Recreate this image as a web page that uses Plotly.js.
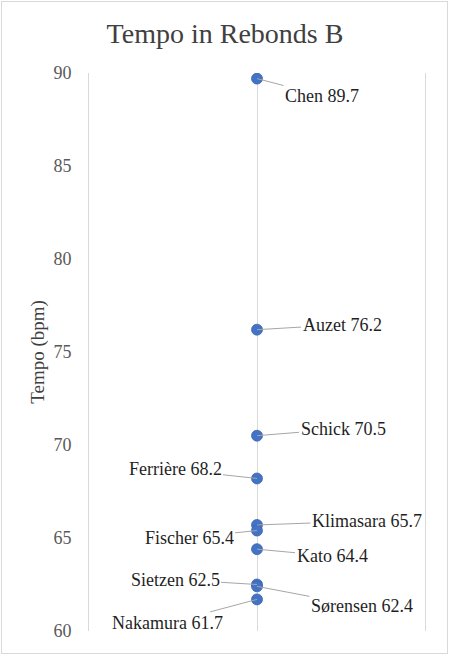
<!DOCTYPE html>
<html>
<head>
<meta charset="utf-8">
<script src="https://cdn.plot.ly/plotly-3.0.1.min.js"></script>
<style>
  html, body { margin: 0; padding: 0; background: #fff; }
  #chart { width: 450px; height: 656px; }
  #frame { position: fixed; left: 1px; top: 1px; width: 445px; height: 651px;
           border: 1.5px solid #d9d9d9; pointer-events: none; }
</style>
</head>
<body>
<div id="chart"></div>
<div id="frame"></div>
<script>
// Data
const performers = ["Chen", "Auzet", "Schick", "Ferrière", "Klimasara", "Fischer", "Kato", "Sietzen", "Sørensen", "Nakamura"];
const tempos = [89.7, 76.2, 70.5, 68.2, 65.7, 65.4, 64.4, 62.5, 62.4, 61.7];
const yTicks = [60, 65, 70, 75, 80, 85, 90];

// Label placement (pixel offsets of each label from its point)
const labelDX = [65, 85, 86, -82, 110, -68, 75, -82, 105, -90];
const labelDY = [17, -5, -7, -9, -4, 7, 7, -5, 20, 24];

const SERIF = "Liberation Serif, Times New Roman, serif";

const xs = performers.map(() => 1);

const trace = {
  type: "scatter",
  mode: "markers",
  x: xs,
  y: tempos,
  text: performers,
  marker: { size: 11, color: "#4472C4", line: { color: "#3A64B0", width: 0.75 } },
  hoverinfo: "text+y",
  showlegend: false
};

const annotations = performers.map((name, i) => ({
  x: 1,
  y: tempos[i],
  xref: "x",
  yref: "y",
  text: name + " " + tempos[i].toFixed(1),
  showarrow: true,
  arrowhead: 0,
  arrowwidth: 1,
  arrowcolor: "#a6a6a6",
  standoff: 0,
  ax: labelDX[i],
  ay: labelDY[i],
  font: { family: SERIF, size: 18, color: "#1f1f1f" }
}));

const layout = {
  width: 450,
  height: 656,
  margin: { l: 89, r: 25, t: 73, b: 25 },
  paper_bgcolor: "#ffffff",
  plot_bgcolor: "#ffffff",
  font: { family: SERIF, size: 18, color: "#595959" },
  title: {
    text: "Tempo in Rebonds B",
    font: { family: SERIF, size: 28, color: "#404040" },
    x: 0.5,
    xanchor: "center",
    y: 1 - 33 / 656,
    yanchor: "middle"
  },
  xaxis: {
    range: [0, 2],
    tickvals: [1],
    showticklabels: false,
    showgrid: true,
    gridcolor: "#d9d9d9",
    gridwidth: 1,
    zeroline: false,
    showline: false,
    ticks: "",
    fixedrange: true
  },
  yaxis: {
    range: [60, 90],
    tickvals: yTicks,
    ticktext: yTicks.map(String),
    showgrid: false,
    zeroline: false,
    showline: true,
    mirror: true,
    linecolor: "#d9d9d9",
    linewidth: 1,
    ticks: "outside",
    ticklen: 13,
    tickcolor: "rgba(0,0,0,0)",
    tickfont: { family: SERIF, size: 18, color: "#595959" },
    title: {
      text: "Tempo (bpm)",
      font: { family: SERIF, size: 19, color: "#404040" },
      standoff: 3
    },
    fixedrange: true
  },
  annotations: annotations
};

Plotly.newPlot("chart", [trace], layout, { displayModeBar: false, staticPlot: true });
</script>
</body>
</html>
